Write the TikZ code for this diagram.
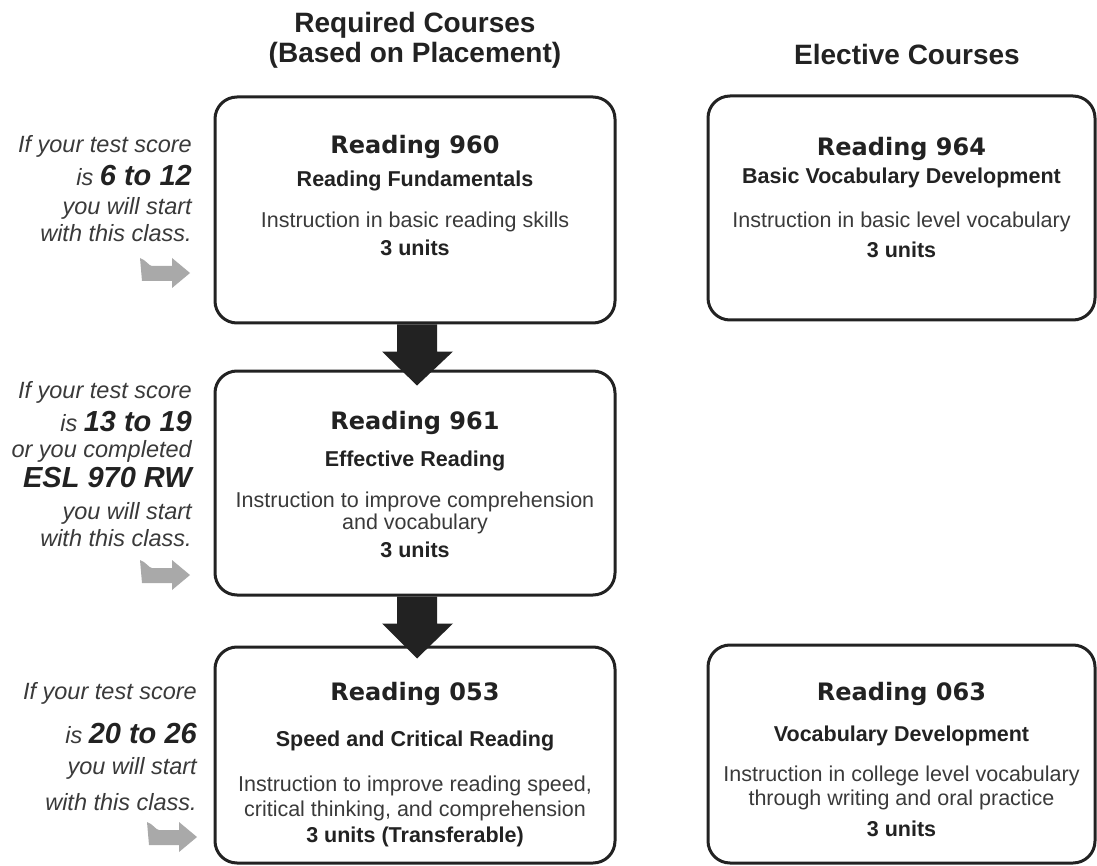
\documentclass[tikz,border=0pt]{standalone}
\usepackage{fontspec}
\setmainfont{Liberation Sans}
\newfontfamily\heavyfont{DejaVu Sans}
\usetikzlibrary{calc}
\definecolor{ink}{HTML}{222222}
\definecolor{txt}{HTML}{3a3a3a}
\definecolor{garrow}{HTML}{a9a9a9}
\tikzset{
  box/.style={draw=ink, line width=3pt, rounded corners=22pt, inner sep=0pt},
  course/.style={font=\heavyfont\bfseries\fontsize{24}{28}\selectfont, text=ink, inner sep=0pt},
  ctitle/.style={font=\bfseries\fontsize{21.5}{25}\selectfont, text=ink, inner sep=0pt},
  cdesc/.style={font=\fontsize{21.5}{25}\selectfont, text=txt, inner sep=0pt},
  cunit/.style={font=\bfseries\fontsize{21.5}{25}\selectfont, text=ink, inner sep=0pt},
  head/.style={font=\bfseries\fontsize{28}{30}\selectfont, text=ink, inner sep=0pt},
  side/.style={font=\itshape\fontsize{23.5}{26}\selectfont, text=txt, anchor=east, inner sep=0pt},
  blockarrow/.style={fill=ink},
  hint/.pic={\fill[garrow] (0,-15) .. controls (6,-13) and (9,-7) .. (12,-7) -- (32,-7) -- (32,-15) -- (50,0) -- (32,15) -- (32,8) -- (2,8) -- cycle;},
}
\newcommand{\num}[1]{{\bfseries\color{ink}\fontsize{29}{30}\selectfont #1}}
\begin{document}
\begin{tikzpicture}[x=1pt,y=-1pt]
\useasboundingbox (0,0) rectangle (1097,866);
\fill[white] (0,0) rectangle (1097,866);

% headings
\node[head] (h1) at (415,25) {Required Courses};
\node[head] (h2) at (415,55) {(Based on Placement)};
\node[head] (h3) at (907,54) {Elective Courses};

% boxes
\node[box, minimum width=400pt, minimum height=226pt] (b960) at (415,210) {};
\node[box, minimum width=400pt, minimum height=224pt] (b961) at (415,483) {};
\node[box, minimum width=400pt, minimum height=216pt] (b053) at (415,755) {};
\node[box, minimum width=387pt, minimum height=224pt] (b964) at (901.5,208) {};
\node[box, minimum width=387pt, minimum height=218pt] (b063) at (901.5,754) {};

% Reading 960
\node[course] (t960a) at (415,147) {Reading 960};
\node[ctitle] (t960b) at (415,181) {Reading Fundamentals};
\node[cdesc]  (t960c) at (415,222) {Instruction in basic reading skills};
\node[cunit]  (t960d) at (415,248) {3 units};

% Reading 964
\node[course] (t964a) at (901.5,149) {Reading 964};
\node[ctitle] (t964b) at (901.5,178) {Basic Vocabulary Development};
\node[cdesc]  (t964c) at (901.5,222) {Instruction in basic level vocabulary};
\node[cunit]  (t964d) at (901.5,250) {3 units};

% Reading 961
\node[course] (t961a) at (415,423) {Reading 961};
\node[ctitle] (t961b) at (415,461) {Effective Reading};
\node[cdesc]  (t961c) at (415,502) {Instruction to improve comprehension};
\node[cdesc]  (t961d) at (415,524) {and vocabulary};
\node[cunit]  (t961e) at (415,550) {3 units};

% Reading 053
\node[course] (t053a) at (415,694) {Reading 053};
\node[ctitle] (t053b) at (415,741) {Speed and Critical Reading};
\node[cdesc]  (t053c) at (415,786) {Instruction to improve reading speed,};
\node[cdesc]  (t053d) at (415,811) {critical thinking, and comprehension};
\node[cunit]  (t053e) at (415,837) {3 units (Transferable)};

% Reading 063
\node[course] (t063a) at (901.5,694) {Reading 063};
\node[ctitle] (t063b) at (901.5,736) {Vocabulary Development};
\node[cdesc]  (t063c) at (901.5,776) {Instruction in college level vocabulary};
\node[cdesc]  (t063d) at (901.5,800) {through writing and oral practice};
\node[cunit]  (t063e) at (901.5,829) {3 units};

% left notes
\node[side] (l1a) at (192,146) {If your test score};
\node[side] (l1b) at (192,176) {is \num{6 to 12}};
\node[side] (l1c) at (192,208) {you will start};
\node[side] (l1d) at (192,233) {with this class.};
\pic at (140,273) {hint};

\node[side] (l2a) at (192,392) {If your test score};
\node[side] (l2b) at (192,422) {is \num{13 to 19}};
\node[side] (l2c) at (192,451) {or you completed};
\node[side] (l2d) at (192,478) {\num{ESL 970 RW}};
\node[side] (l2e) at (192,513) {you will start};
\node[side] (l2f) at (192,538) {with this class.};
\pic at (140,575) {hint};

\node[side] (l3a) at (197,693) {If your test score};
\node[side] (l3b) at (197,734) {is \num{20 to 26}};
\node[side] (l3c) at (197,768) {you will start};
\node[side] (l3d) at (197,802) {with this class.};
\pic at (147,837) {hint};

% block arrows between required courses
\fill[blockarrow] ($(b960.south)+(-18,0)$) -- ($(b961.north)+(-18,-18)$) -- ($(b961.north)+(-33,-18)$)
  -- ($(b961.north)+(2,16)$) -- ($(b961.north)+(38,-18)$) -- ($(b961.north)+(22,-18)$)
  -- ($(b960.south)+(22,0)$) -- cycle;
\fill[blockarrow] ($(b961.south)+(-18,0)$) -- ($(b053.north)+(-18,-22)$) -- ($(b053.north)+(-33,-22)$)
  -- ($(b053.north)+(2,13)$) -- ($(b053.north)+(38,-22)$) -- ($(b053.north)+(22,-22)$)
  -- ($(b961.south)+(22,0)$) -- cycle;
\end{tikzpicture}
\end{document}
